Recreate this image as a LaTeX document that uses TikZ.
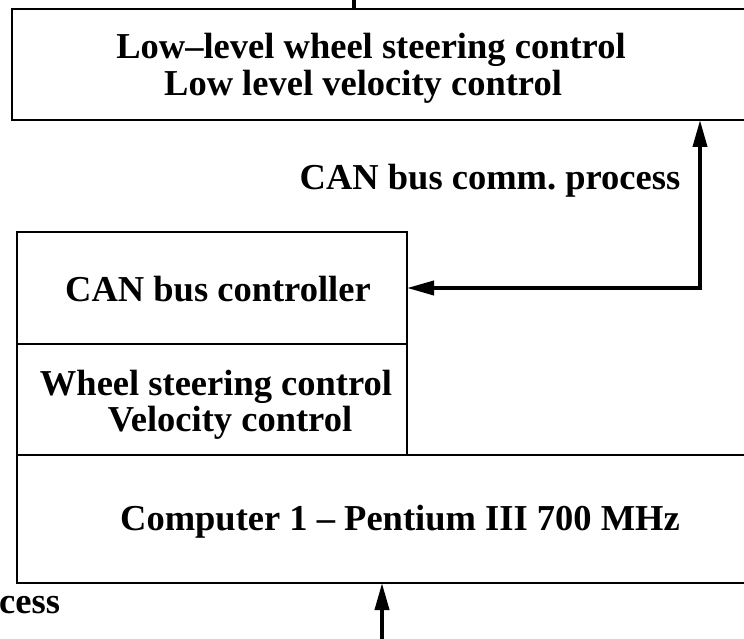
\documentclass[tikz,border=0pt]{standalone}
\usepackage{fontspec}
\setmainfont{Liberation Serif}
\usetikzlibrary{arrows.meta}
\frenchspacing
\begin{document}
\begin{tikzpicture}[x=1pt,y=-1pt,
  box/.style={draw,line width=1.8pt,inner sep=0pt,outer sep=0pt,anchor=north west},
  lbl/.style={font=\fontsize{36.5}{37}\selectfont\bfseries,inner sep=0pt,anchor=base},
  conn/.style={line width=3.8pt},
  tip/.tip={Triangle[length=27pt,width=14pt]},
  arr/.style={conn,-tip}]
\useasboundingbox (0,0) rectangle (744,639);
\clip (0,0) rectangle (744,639);
% boxes
\node[box,minimum width=780pt,minimum height=111pt] (llc) at (12,9) {};
\node[box,minimum width=390pt,minimum height=112pt] (can) at (17,232) {};
\node[box,minimum width=390pt,minimum height=111pt] (ctl) at (17,344) {};
\node[box,minimum width=780pt,minimum height=128pt] (comp) at (17,455) {};
% labels
\node[lbl] (t1) at (371,59) {Low\textendash level wheel steering control};
\node[lbl] (t2) at (363,96) {Low level velocity control};
\node[lbl] (bus) at (490,190) {CAN bus comm.\ process};
\node[lbl] (t3) at (218,301) {CAN bus controller};
\node[lbl] (t4) at (216,395) {Wheel steering control};
\node[lbl] (t5) at (230,431) {Velocity control};
\node[lbl] (t6) at (400,530) {Computer 1 \textendash{} Pentium III 700 MHz};
\node[lbl,anchor=base west] (t7) at (-1,613) {cess};
% connectors
\coordinate (tin) at (354,0);
\draw[conn] (tin) -- (tin |- llc.north);
\coordinate (bend) at (700,288);
\draw[conn,tip-tip] (llc.south -| bend) |- (can.east);
\coordinate (bin) at (382,639);
\draw[arr] (bin) -- (bin |- comp.south);
\end{tikzpicture}
\end{document}
